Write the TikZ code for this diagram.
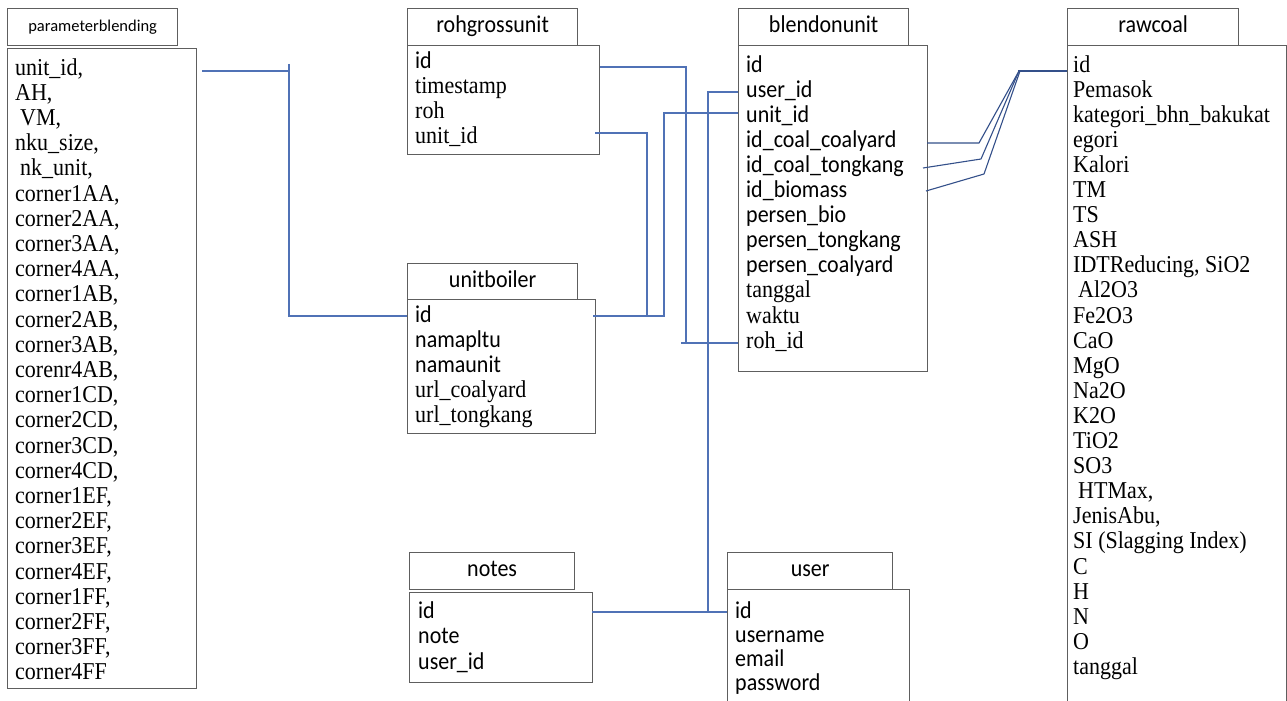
\documentclass[tikz,border=0pt]{standalone}
\usepackage{fontspec}
\setmainfont{Liberation Serif}
\newfontfamily\calib{Carlito}
\definecolor{boxgray}{HTML}{5E5E5E}
\definecolor{connblue}{HTML}{5072B6}
\definecolor{darkblue}{HTML}{34508A}
\newcommand{\tall}[1]{\scalebox{1}[1.1]{#1}}
\begin{document}
\begin{tikzpicture}[x=1pt,y=-1pt,
  box/.style={draw=boxgray, line width=1.3pt, anchor=north west, inner sep=0pt},
  ttl/.style={box, text height=15pt, text depth=4pt, font=\calib\fontsize{22}{25}\selectfont},
  fs/.style={anchor=base west, inner sep=0pt, font=\fontsize{22}{25}\selectfont},
  fc/.style={anchor=base west, inner sep=0pt, font=\calib\fontsize{22}{25}\selectfont},
  conn/.style={draw=connblue, line width=1.8pt},
  conn2/.style={draw=darkblue, line width=1.1pt, line join=round}]
\useasboundingbox (0,0) rectangle (1287,701);
\fill[white] (0,0) rectangle (1287,701);

% ---------- boxes ----------
\node[ttl, minimum width=170pt, minimum height=37pt, text height=12pt, text depth=4pt, font=\calib\fontsize{16.5}{18}\selectfont] (pbT) at (7,8) {parameterblending};
\node[box, minimum width=189pt, minimum height=640pt] (pbB) at (7,48) {};
\node[ttl, minimum width=170pt, minimum height=37pt] (rgT) at (407,8) {\tall{rohgrossunit}};
\node[box, minimum width=192pt, minimum height=109pt] (rgB) at (407,45) {};
\node[ttl, minimum width=170pt, minimum height=36pt] (ubT) at (407,263) {\tall{unitboiler}};
\node[box, minimum width=188pt, minimum height=134pt] (ubB) at (407,299) {};
\node[ttl, minimum width=170pt, minimum height=37pt] (bdT) at (738,8) {\tall{blendonunit}};
\node[box, minimum width=189pt, minimum height=326pt] (bdB) at (738,45) {};
\node[ttl, minimum width=171pt, minimum height=37pt] (rcT) at (1067,8) {\tall{rawcoal}};
\node[box, minimum width=219pt, minimum height=700pt] (rcB) at (1067,45) {};
\node[ttl, minimum width=165pt, minimum height=37pt] (ntT) at (409,552) {\tall{notes}};
\node[box, minimum width=183pt, minimum height=90pt] (ntB) at (409,592) {};
\node[ttl, minimum width=165pt, minimum height=37pt] (usT) at (727,552) {\tall{user}};
\node[box, minimum width=182pt, minimum height=150pt] (usB) at (727,589) {};

% ---------- fields ----------
\foreach \t [count=\i from 0] in {{unit\_id,}, {AH,}, {\hspace*{5pt}VM,}, {nku\_size,}, {\hspace*{5pt}nk\_unit,},
  {corner1AA,}, {corner2AA,}, {corner3AA,}, {corner4AA,}, {corner1AB,}, {corner2AB,}, {corner3AB,}, {corenr4AB,},
  {corner1CD,}, {corner2CD,}, {corner3CD,}, {corner4CD,}, {corner1EF,}, {corner2EF,}, {corner3EF,}, {corner4EF,},
  {corner1FF,}, {corner2FF,}, {corner3FF,}, {corner4FF}}
  {\node[fs] (pb\i) at ({15},{75+25.2*\i}) {\tall{\t}};}

\foreach \t [count=\i from 0] in {id, Pemasok, kategori\_bhn\_bakukat, egori, Kalori, TM, TS, ASH,
  {IDTReducing, SiO2}, {\hspace*{5pt}Al2O3}, Fe2O3, CaO, MgO, Na2O, K2O, TiO2, SO3, {\hspace*{5pt}HTMax,},
  {JenisAbu,}, {SI (Slagging Index)}, C, H, N, O, tanggal}
  {\node[fs] (rc\i) at ({1073},{72+25.1*\i}) {\tall{\t}};}

\foreach \t [count=\i from 0] in {id, user\_id, unit\_id, id\_coal\_coalyard, id\_coal\_tongkang, id\_biomass,
  persen\_bio, persen\_tongkang, persen\_coalyard}
  {\node[fc] (bd\i) at ({746},{72+25.1*\i}) {\tall{\t}};}
\foreach \t [count=\i from 9] in {tanggal, waktu, roh\_id}
  {\node[fs] (bd\i) at ({746},{72+25.1*\i}) {\tall{\t}};}

\node[fc] (rg0) at (415,68) {\tall{id}};
\foreach \t [count=\i from 1] in {timestamp, roh, unit\_id}
  {\node[fs] (rg\i) at ({415},{68+25.3*\i}) {\tall{\t}};}

\foreach \t [count=\i from 0] in {id, namapltu, namaunit}
  {\node[fc] (ub\i) at ({415},{322+25*\i}) {\tall{\t}};}
\foreach \t [count=\i from 3] in {url\_coalyard, url\_tongkang}
  {\node[fs] (ub\i) at ({415},{322+25*\i}) {\tall{\t}};}

\foreach \t [count=\i from 0] in {id, note, user\_id}
  {\node[fc] (nt\i) at ({418},{618+25.5*\i}) {\tall{\t}};}

\foreach \t [count=\i from 0] in {id, username, email, password}
  {\node[fc] (us\i) at ({735},{618+24*\i}) {\tall{\t}};}

% ---------- connector ports ----------
\coordinate (pA) at (202,71);   \coordinate (ubIn) at (407,316);
\coordinate (rgId) at (600,67); \coordinate (bdRoh) at (738,343);
\coordinate (rgUnit) at (595,133); \coordinate (ubId) at (593,316);
\coordinate (bdUnit) at (738,113); \coordinate (bdUser) at (738,92);
\coordinate (ntId) at (592,612); \coordinate (usId) at (727,612);
\coordinate (bdCy) at (927,143); \coordinate (bdTk) at (923,168); \coordinate (bdBm) at (926,191);
\coordinate (rcId) at (1067,71);

% ---------- connectors ----------
\draw[conn] (pA) -- (289,71) -- (289,316) -- (ubIn);
\draw[conn] (289,64) -- (289,71);
\draw[conn] (rgId) -- (686,67) -- (686,343);
\draw[conn] (681,343) -- (bdRoh);
\draw[conn] (rgUnit) -- (647,133) -- (647,316);
\draw[conn] (ubId) -- (664,316) -- (664,113) -- (bdUnit);
\draw[conn] (bdUser) -- (708,92) -- (708,612);
\draw[conn] (ntId) -- (usId);
\draw[conn2] (bdCy) -- (979,143) -- (1019,71);
\draw[conn2] (bdTk) -- (981,159) -- (1019,71);
\draw[conn2] (bdBm) -- (984,174) -- (1020,71);
\draw[conn2] (1018,71) -- (rcId);
\end{tikzpicture}
\end{document}
